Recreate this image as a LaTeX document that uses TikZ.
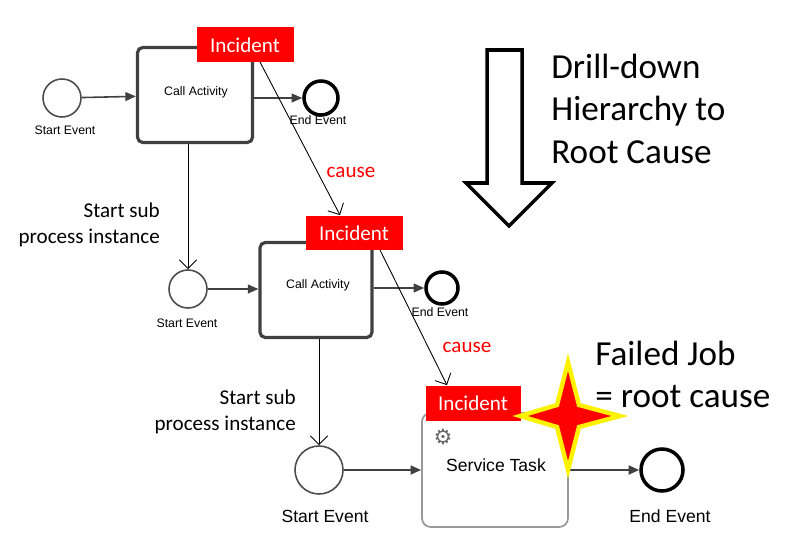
\documentclass[tikz,border=0pt]{standalone}
\usepackage{fontspec}
\setmainfont{Carlito}
\newfontfamily\arl{Liberation Sans}
\newfontfamily\djv{DejaVu Sans}
\usetikzlibrary{arrows.meta}
\begin{document}
\begin{tikzpicture}[x=0.02cm,y=-0.02cm,
  flow/.style={-{Triangle[length=6pt,width=5pt]},line width=0.9pt,draw=black!75},
  thin flow/.style={-{Straight Barb[length=5pt]},line width=0.5pt},
  ev/.style={circle,draw=black!70,line width=0.9pt,inner sep=0pt},
  endev/.style={circle,draw=black,line width=2pt,inner sep=0pt},
  task/.style={draw=black!75,line width=1.8pt,rounded corners=3pt,font=\arl\scriptsize},
  inc/.style={fill=red,text=white,font=\large,inner sep=0pt,minimum height=0.7cm},
  small/.style={font=\arl\scriptsize},
  lbl/.style={font=\fontsize{12}{14.5}\selectfont,align=right,anchor=east},
  big/.style={anchor=north west,align=left,font=\fontsize{20}{24}\selectfont,inner sep=0pt}]
\useasboundingbox (0,0) rectangle (793,550);
% level 1
\node[ev,minimum size=38*0.02cm] (s1) at (62,98) {};
\node[small] at (65,130) {Start Event};
\node[task,minimum width=115*0.02cm,minimum height=95*0.02cm] (c1) at (195,95) {};
\node[small] at (196,92) {Call Activity};
\node[endev,minimum size=34*0.02cm] (e1) at (321,98) {};
\node[small] at (318,120) {End Event};
\draw[flow] (s1) -- (c1);
\draw[flow] (c1.east|-e1) -- (e1);
\node[inc,minimum width=97*0.02cm] (i1) at (245,45) {Incident};
% level 2
\node[ev,minimum size=38*0.02cm] (s2) at (188,289) {};
\node[small] at (187,323) {Start Event};
\node[task,minimum width=112*0.02cm,minimum height=95*0.02cm] (c2) at (316,290) {};
\node[small] at (318,285) {Call Activity};
\node[endev,minimum size=32*0.02cm] (e2) at (442,288) {};
\node[small] at (440,312) {End Event};
\draw[flow] (s2) -- (c2.west|-s2);
\draw[flow] (c2.east|-e2) -- (e2);
\node[inc,minimum width=97*0.02cm] (i2) at (354,233) {Incident};
% level 3
\node[ev,minimum size=48*0.02cm] (s3) at (319,470) {};
\node[font=\arl] at (325,516) {Start Event};
\node[draw=black!40,line width=1pt,rounded corners=5pt,minimum width=146*0.02cm,minimum height=114*0.02cm] (t3) at (495,470) {};
\node[font=\arl] at (496,465) {Service Task};
\node[font=\djv\large,text=black!60] at (443,437) {\char"2699};
\node[endev,minimum size=42*0.02cm] (e3) at (662,470) {};
\node[font=\arl] at (670,516) {End Event};
\draw[flow,line width=1.3pt] (s3) -- (t3.west|-s3);
\draw[flow,line width=1.3pt] (t3.east|-e3) -- (e3);
\node[inc,minimum width=95*0.02cm] (i3) at (473,403) {Incident};
% hierarchy connectors
\draw[thin flow] (c1.south-|s2) -- (s2);
\node[lbl] at (166,225) {Start sub\\process instance};
\draw[thin flow] (c2.south-|s3) -- (s3);
\node[lbl] at (302,412) {Start sub\\process instance};
\coordinate (a1) at (260,62);
\coordinate (a2) at (380,250);
\draw[thin flow] (a1) -- (i2.north-|340,0);
\node[text=red,font=\fontsize{12}{14}\selectfont] at (351,172) {cause};
\draw[thin flow] (a2) -- (i3.north-|447,0);
\node[text=red,font=\fontsize{12}{14}\selectfont] at (467,347) {cause};
% star
\draw[fill=red,draw=yellow,line width=2.5pt,line join=miter]
 (568,362) -- (579,405) -- (620,416) -- (579,427) -- (568,470) -- (557,427) -- (520,416) -- (557,405) -- cycle;
% big arrow
\draw[line width=2pt] (487,50) -- (522,50) -- (522,183) -- (552,183) -- (509,226) -- (466,183) -- (487,183) -- cycle;
\node[big] at (551,54) {Drill-down\\Hierarchy to\\Root Cause};
\node[big] at (595,341) {Failed Job\\= root cause};
\end{tikzpicture}
\end{document}
